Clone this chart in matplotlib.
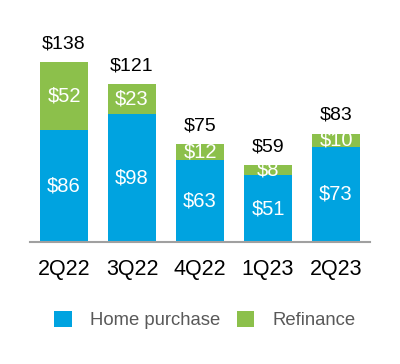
import numpy as np
import matplotlib
matplotlib.use('Agg')
import matplotlib.pyplot as plt
from matplotlib.patches import Patch

plt.rcParams['font.family'] = ['Liberation Sans', 'DejaVu Sans']

# data ($ billions)
quarters = ['2Q22', '3Q22', '4Q22', '1Q23', '2Q23']
home_purchase = [86, 98, 63, 51, 73]
refinance = [52, 23, 12, 8, 10]
totals = [138, 121, 75, 59, 83]

blue = '#00A3E0'
green = '#8CC04B'

fig = plt.figure(figsize=(4, 3.64), dpi=100)
ax = fig.add_axes([0.075, 0.335, 0.85, 0.574])

x = np.arange(len(quarters))
ax.bar(x, home_purchase, width=0.7, color=blue)
ax.bar(x, refinance, width=0.7, bottom=home_purchase, color=green)

# white labels inside each segment
for i in range(len(x)):
    ax.text(x[i], home_purchase[i] / 2, '$%d' % home_purchase[i], ha='center', va='center',
            color='white', fontsize=14.5)
    ax.text(x[i], home_purchase[i] + refinance[i] / 2, '$%d' % refinance[i], ha='center',
            va='center', color='white', fontsize=14.5)
    ax.annotate('$%d' % totals[i], (x[i], home_purchase[i] + refinance[i]),
                xytext=(0, 7), textcoords='offset points', ha='center', va='bottom',
                fontsize=14, color='black')

ax.set_xlim(-0.5, 4.5)
ax.set_ylim(0, 160)
ax.set_yticks([])
ax.set_xticks(x)
ax.set_xticklabels(quarters, fontsize=15.5)
ax.tick_params(axis='x', length=0, pad=12)
for s in ['top', 'right', 'left']:
    ax.spines[s].set_visible(False)
ax.spines['bottom'].set_color('#A0A0A0')
ax.spines['bottom'].set_linewidth(1.5)

handles = [Patch(facecolor=blue, label='Home purchase'), Patch(facecolor=green, label='Refinance')]
leg = fig.legend(handles=handles, loc='center', bbox_to_anchor=(0.5125, 0.12), ncol=2,
                 frameon=False, fontsize=13.3, handlelength=0.95, handleheight=0.95,
                 handletextpad=1.0, columnspacing=0.9)
for t in leg.get_texts():
    t.set_color('#595959')

fig.savefig('out.png', dpi=100)
